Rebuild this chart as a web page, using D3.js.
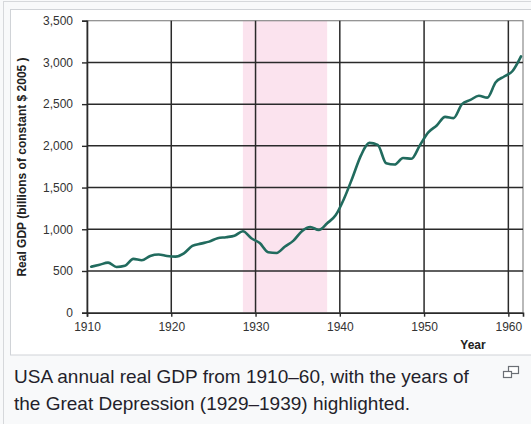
<!DOCTYPE html>
<html>
<head>
<meta charset="utf-8">
<script src="https://cdn.jsdelivr.net/npm/d3@7"></script>
<style>
  html, body { margin: 0; padding: 0; background: #f8f9fa; }
  svg { display: block; font-family: "Liberation Sans", Arial, sans-serif; }
</style>
</head>
<body>
<svg id="chart" width="531" height="424"></svg>
<script>
/* data — real GDP, billions of constant 2005 dollars */
const years = d3.range(1911, 1963);
const gdp = [
  551, 575, 600, 548, 562, 645, 628, 680, 697, 680,
  672, 712, 800, 828, 852, 893, 905, 922, 976, 892,
  834, 725, 716, 794, 864, 977, 1027, 992, 1072, 1167,
  1366, 1618, 1883, 2035, 2012, 1792, 1776, 1854, 1845, 2006,
  2161, 2244, 2347, 2332, 2500, 2550, 2601, 2578, 2763, 2831,
  2897, 3072
];
const xTicks = [1910, 1920, 1930, 1940, 1950, 1960];
const yTicks = [0, 500, 1000, 1500, 2000, 2500, 3000, 3500];
const depression = [1929, 1939];
const caption = [
  "USA annual real GDP from 1910\u201360, with the years of",
  "the Great Depression (1929\u20131939) highlighted."
];

const svg = d3.select('#chart');
const W = 531, H = 424;
const plot = { left: 87, right: 523, top: 20.7, bottom: 312.7 };
const shift = 0.5; // yearly points sit half a year left of their label (category axis)

// frame (thumbnail box + white image)
svg.append('rect').attr('x', 3.5).attr('y', 1.5).attr('width', W).attr('height', H)
  .attr('fill', '#f8f9fa').attr('stroke', '#d6d8db');
svg.append('rect').attr('x', 10.5).attr('y', 9.5).attr('width', W).attr('height', 345.5)
  .attr('fill', '#fff').attr('stroke', '#d0d3d7');

const x = d3.scaleLinear().domain([1910, 1910 + (plot.right - plot.left) / 8.427]).range([plot.left, plot.right]);
const y = d3.scaleLinear().domain([0, 3500]).range([plot.bottom, plot.top]);

// depression band
svg.append('rect')
  .attr('x', x(depression[0] - shift)).attr('y', y(3500))
  .attr('width', x(depression[1] - shift) - x(depression[0] - shift))
  .attr('height', y(0) - y(3500))
  .attr('fill', '#fbe3ee');

// plot border
svg.append('rect').attr('x', plot.left).attr('y', plot.top)
  .attr('width', plot.right - plot.left).attr('height', plot.bottom - plot.top)
  .attr('fill', 'none').attr('stroke', '#8a8a8a').attr('stroke-width', 1.2);

// grid
const grid = svg.append('g').attr('stroke', '#2a2a2a').attr('stroke-width', 1.5);
grid.selectAll('line.h').data(yTicks.filter(d => d > 0 && d < 3500)).join('line').attr('class', 'h')
  .attr('x1', plot.left).attr('x2', plot.right).attr('y1', d => y(d)).attr('y2', d => y(d));
grid.selectAll('line.v').data(xTicks.slice(1)).join('line').attr('class', 'v')
  .attr('x1', d => x(d)).attr('x2', d => x(d)).attr('y1', plot.top).attr('y2', plot.bottom);

// axes
const yAxis = svg.append('g').attr('transform', `translate(${plot.left},0)`)
  .call(d3.axisLeft(y).tickValues(yTicks).tickSize(5).tickPadding(9).tickFormat(d3.format(',')));
const xAxis = svg.append('g').attr('transform', `translate(0,${plot.bottom})`)
  .call(d3.axisBottom(x).tickValues(xTicks).tickSize(4).tickPadding(6).tickFormat(d3.format('d')));
[yAxis, xAxis].forEach(a => {
  a.attr('font-size', 12).attr('font-family', '"Liberation Sans", Arial, sans-serif');
  a.select('.domain').attr('stroke', '#2a2a2a').attr('stroke-width', 1.6);
  a.selectAll('.tick line').attr('stroke', '#2a2a2a').attr('stroke-width', 1.4);
  a.selectAll('.tick text').attr('fill', '#333');
});

// GDP line
const line = d3.line().x((d, i) => x(years[i] - shift)).y(d => y(d)).curve(d3.curveMonotoneX);
svg.append('path').datum(gdp).attr('d', line)
  .attr('fill', 'none').attr('stroke', '#216b5e').attr('stroke-width', 2.6)
  .attr('stroke-linejoin', 'round').attr('stroke-linecap', 'round');

// titles
svg.append('text').attr('transform', 'translate(26,167) rotate(-90)')
  .attr('text-anchor', 'middle').attr('font-weight', 'bold').attr('font-size', 12).attr('fill', '#222')
  .text('Real GDP (billions of constant $ 2005 )');
svg.append('text').attr('x', 473).attr('y', 349).attr('text-anchor', 'middle')
  .attr('font-weight', 'bold').attr('font-size', 12).attr('fill', '#222').text('Year');

// caption
svg.append('g').selectAll('text').data(caption).join('text')
  .attr('x', 14).attr('y', (d, i) => 383 + i * 26.5)
  .attr('font-size', 19).attr('fill', '#241f2b').text(d => d);

// enlarge icon
const icon = svg.append('g').attr('transform', 'translate(503,366)').attr('fill', '#fff')
  .attr('stroke', '#6b6f75').attr('stroke-width', 1.2);
icon.append('rect').attr('x', 5.5).attr('y', 0.5).attr('width', 10).attr('height', 7);
icon.append('rect').attr('x', 0.5).attr('y', 5.5).attr('width', 8).attr('height', 6);
</script>
</body>
</html>
